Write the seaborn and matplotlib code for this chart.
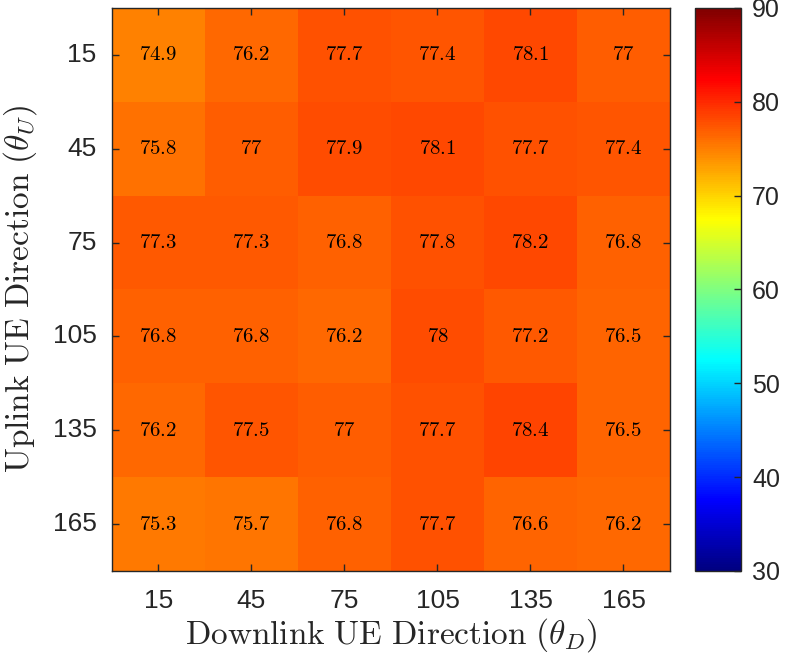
import matplotlib
matplotlib.use("Agg")
import matplotlib.pyplot as plt
from matplotlib.colors import ListedColormap
import seaborn as sns
import numpy as np
import pandas as pd

# uplink direction (rows) x downlink direction (columns)
uplink_dirs = [15, 45, 75, 105, 135, 165]
downlink_dirs = [15, 45, 75, 105, 135, 165]

row_15 = [74.9, 76.2, 77.7, 77.4, 78.1, 77]
row_45 = [75.8, 77, 77.9, 78.1, 77.7, 77.4]
row_75 = [77.3, 77.3, 76.8, 77.8, 78.2, 76.8]
row_105 = [76.8, 76.8, 76.2, 78, 77.2, 76.5]
row_135 = [76.2, 77.5, 77, 77.7, 78.4, 76.5]
row_165 = [75.3, 75.7, 76.8, 77.7, 76.6, 76.2]

df = pd.DataFrame([row_15, row_45, row_75, row_105, row_135, row_165],
                  index=uplink_dirs, columns=downlink_dirs)

# matlab jet (a bit redder than matplotlib's)
x = np.linspace(0, 1, 256)
jet_m = np.stack([np.clip(1.5 - np.abs(4 * x - 3), 0, 1),
                  np.clip(1.5 - np.abs(4 * x - 2), 0, 1),
                  np.clip(1.5 - np.abs(4 * x - 1), 0, 1)], axis=1)
jet_m = ListedColormap(jet_m)

plt.rcParams["mathtext.fontset"] = "cm"
plt.rcParams["font.family"] = ["Liberation Sans", "DejaVu Sans"]
gri = "#262626"

# labels like matlab: drop trailing .0
etiketler = df.apply(lambda s: s.map(lambda v: "$%g$" % v))

fig = plt.figure(figsize=(7.92, 6.61), dpi=100)
ax = fig.add_axes([0.1414, 0.1362, 0.7045, 0.8517])
cax = fig.add_axes([0.8775, 0.1362, 0.058, 0.8517])

sns.heatmap(df, ax=ax, cbar_ax=cax, cmap=jet_m, vmin=30, vmax=90,
            annot=etiketler, fmt="", annot_kws={"fontsize": 15, "color": "black"},
            square=False)

for sp in ax.spines.values():
    sp.set_visible(True)
    sp.set_color(gri)
    sp.set_linewidth(1)

ax.tick_params(direction="in", length=5, width=1, labelsize=19, colors=gri,
               top=True, right=True)
ax.tick_params(axis="x", pad=13)
ax.tick_params(axis="y", pad=11)
ax.set_yticklabels(uplink_dirs, rotation=0)
ax.set_xticklabels(downlink_dirs, rotation=0)
ax.set_xlabel(r"$\mathrm{Downlink\ UE\ Direction}\ (\theta_D)$", fontsize=24,
              labelpad=2, color=gri)
ax.set_ylabel(r"$\mathrm{Uplink\ UE\ Direction}\ (\theta_U)$", fontsize=24,
              labelpad=10, color=gri)

cbar = ax.collections[0].colorbar
cbar.set_ticks([30, 40, 50, 60, 70, 80, 90])
cbar.ax.tick_params(direction="in", length=5, width=1, labelsize=18, pad=8,
                    colors=gri)
cbar.outline.set_visible(True)
cbar.outline.set_edgecolor(gri)
cbar.outline.set_linewidth(1)

fig.savefig("out.png", dpi=100)
